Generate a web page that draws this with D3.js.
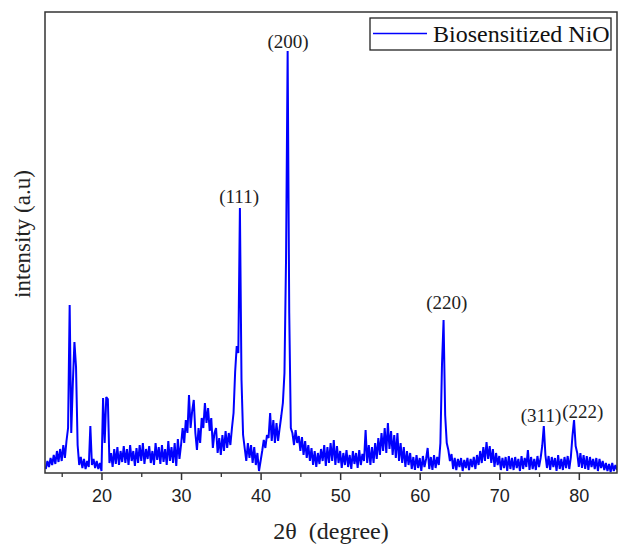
<!DOCTYPE html>
<html><head><meta charset="utf-8">
<script src="https://cdn.jsdelivr.net/npm/d3@7"></script>
<style>body{margin:0;background:#fff}</style>
</head><body>
<svg id="chart" width="618" height="546"></svg>
<script>
// XRD scan: 2θ from 13.0° in 0.2° steps, intensity in arbitrary units
const scanStart = 13.0;
const scanStep = 0.2;
const intensity = [
  4, 12, 6, 15, 8,        // 13
  18, 9, 22, 11, 24,      // 14
  12, 28, 15, 32, 45,     // 15
  168, 40, 90, 131, 106,  // 16
  28, 8, 16, 5, 14,       // 17
  4, 12, 6, 47, 8,        // 18
  14, 5, 12, 4, 10,       // 19
  2, 75, 30, 76, 74,      // 20
  10, 20, 6, 24, 9,       // 21
  26, 8, 22, 11, 27,      // 22
  10, 24, 8, 28, 12,      // 23
  22, 7, 25, 10, 28,      // 24
  12, 30, 9, 24, 14,      // 25
  27, 10, 22, 8, 30,      // 26
  13, 26, 9, 28, 11,      // 27
  24, 8, 32, 12, 26,      // 28
  10, 30, 7, 34, 14,      // 29
  28, 45, 30, 53, 40,     // 30
  78, 45, 62, 73, 40,     // 31
  23, 45, 30, 55, 45,     // 32
  70, 50, 65, 42, 55,     // 33
  25, 40, 45, 20, 35,     // 34
  18, 38, 22, 42, 25,     // 35
  40, 28, 45, 60, 101,    // 36
  127, 120, 265, 93, 38,  // 37
  25, 12, 30, 15, 28,     // 38
  10, 26, 8, 20, 2,       // 39
  12, 22, 33, 25, 38,     // 40
  35, 60, 32, 53, 30,     // 41
  50, 32, 45, 57, 70,     // 42
  100, 215, 422, 160, 45, // 43
  40, 28, 43, 30, 37,     // 44
  22, 36, 18, 32, 15,     // 45
  28, 12, 25, 8, 22,      // 46
  6, 20, 9, 24, 12,       // 47
  28, 7, 26, 10, 30,      // 48
  12, 33, 8, 27, 10,      // 49
  22, 5, 20, 8, 23,       // 50
  6, 18, 4, 22, 9,        // 51
  20, 5, 23, 8, 19,       // 52
  12, 43, 10, 28, 8,      // 53
  26, 10, 30, 14, 35,     // 54
  18, 40, 22, 45, 20,     // 55
  50, 24, 42, 18, 38,     // 56
  15, 40, 12, 30, 10,     // 57
  26, 6, 22, 8, 20,       // 58
  4, 16, 3, 18, 5,        // 59
  15, 2, 17, 6, 14,       // 60
  25, 4, 16, 3, 18,       // 61
  5, 16, 8, 30, 108,      // 62
  153, 58, 30, 23, 12,    // 63
  19, 4, 15, 3, 14,       // 64
  6, 15, 2, 13, 5,        // 65
  15, 3, 14, 6, 16,       // 66
  4, 18, 8, 22, 10,       // 67
  26, 12, 31, 14, 27,     // 68
  10, 24, 6, 20, 8,       // 69
  17, 3, 15, 5, 16,       // 70
  2, 17, 4, 15, 3,        // 71
  16, 5, 14, 2, 17,       // 72
  4, 15, 6, 23, 3,        // 73
  16, 4, 14, 3, 17,       // 74
  6, 15, 27, 47, 18,      // 75
  5, 17, 3, 16, 6,        // 76
  15, 2, 18, 4, 14,       // 77
  3, 16, 5, 17, 4,        // 78
  16, 37, 53, 27, 20,     // 79
  6, 20, 5, 18, 4,        // 80
  17, 3, 16, 6, 14,       // 81
  4, 15, 2, 14, 5,        // 82
  12, 3, 10, 2, 9,        // 83
  1, 10, 2, 8, 3          // 84
];

const xMajorTicks = [20, 30, 40, 50, 60, 70, 80];
const xMinorTicks = [15, 25, 35, 45, 55, 65, 75];

// Miller-index annotations: label text, anchor 2θ, anchor intensity
const peakLabels = ["(111)", "(200)", "(220)", "(311)", "(222)"];
const peakLabelAngles = [37.3, 43.45, 63.4, 75.25, 80.5];
const peakLabelHeights = [270, 425, 164, 51, 55];

const seriesName = "Biosensitized NiO";
const xTitle = "2θ  (degree)";
const yTitle = "intensity (a.u)";

const margin = {left: 45, right: 617, top: 12, bottom: 473};
const svg = d3.select("#chart");

const x = d3.scaleLinear().domain([12.9, 84.8]).range([margin.left, margin.right]);
const y = d3.scaleLinear().domain([0, 461]).range([margin.bottom, margin.top]);

const data = intensity.map((v, i) => ({a: scanStart + i * scanStep, v}));

svg.append("defs").append("clipPath").attr("id", "clip")
  .append("rect").attr("x", margin.left).attr("y", margin.top)
  .attr("width", margin.right - margin.left).attr("height", margin.bottom - margin.top);

svg.append("path")
  .datum(data)
  .attr("clip-path", "url(#clip)")
  .attr("fill", "none")
  .attr("stroke", "#0000ff")
  .attr("stroke-width", 2)
  .attr("stroke-linejoin", "bevel")
  .attr("d", d3.line().x(d => x(d.a)).y(d => y(d.v)));

// frame
svg.append("rect")
  .attr("x", margin.left).attr("y", margin.top)
  .attr("width", margin.right - margin.left).attr("height", margin.bottom - margin.top)
  .attr("fill", "none").attr("stroke", "#333").attr("stroke-width", 1.5);

// axes
const gMinor = svg.append("g").attr("transform", `translate(0,${margin.bottom})`)
  .call(d3.axisBottom(x).tickValues(xMinorTicks).tickSize(4).tickFormat(""));
gMinor.select(".domain").remove();
gMinor.selectAll("line").attr("stroke", "#333").attr("stroke-width", 1.3);

const gMajor = svg.append("g").attr("transform", `translate(0,${margin.bottom})`)
  .call(d3.axisBottom(x).tickValues(xMajorTicks).tickSize(7).tickPadding(9).tickFormat(d3.format("d")));
gMajor.select(".domain").remove();
gMajor.selectAll("line").attr("stroke", "#333").attr("stroke-width", 1.5);
gMajor.selectAll("text").attr("font-family", "Liberation Sans, Arial, sans-serif")
  .attr("font-size", 18).attr("fill", "#222");

// axis titles
svg.append("text")
  .attr("x", (margin.left + margin.right) / 2).attr("y", 539)
  .attr("text-anchor", "middle")
  .attr("font-family", "Liberation Serif, Times New Roman, serif")
  .attr("font-size", 24).attr("fill", "#222")
  .style("white-space", "pre")
  .text(xTitle);

svg.append("text")
  .attr("transform", "translate(30,234) rotate(-90)")
  .attr("text-anchor", "middle")
  .attr("font-family", "Liberation Serif, Times New Roman, serif")
  .attr("font-size", 23).attr("fill", "#222")
  .text(yTitle);

// peak labels
svg.append("g").selectAll("text").data(peakLabels).join("text")
  .attr("x", (d, i) => x(peakLabelAngles[i]))
  .attr("y", (d, i) => y(peakLabelHeights[i]))
  .attr("text-anchor", "middle")
  .attr("font-family", "Liberation Serif, Times New Roman, serif")
  .attr("font-size", 19).attr("fill", "#222")
  .text(d => d);

// legend
const lg = svg.append("g");
lg.append("rect").attr("x", 370).attr("y", 18).attr("width", 241).attr("height", 32)
  .attr("fill", "#fff").attr("stroke", "#222").attr("stroke-width", 1.3);
lg.append("line").attr("x1", 373).attr("x2", 427).attr("y1", 33.5).attr("y2", 33.5)
  .attr("stroke", "#0000ff").attr("stroke-width", 1.5);
lg.append("text").attr("x", 433).attr("y", 42)
  .attr("font-family", "Liberation Serif, Times New Roman, serif")
  .attr("font-size", 24).attr("fill", "#111")
  .text(seriesName);
</script>
</body></html>
